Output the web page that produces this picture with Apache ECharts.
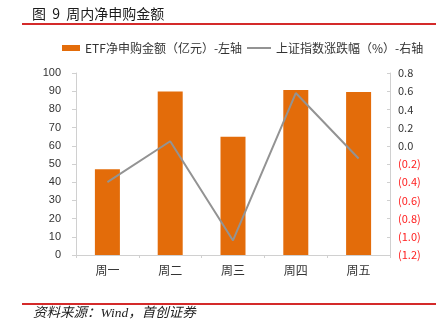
<!DOCTYPE html>
<html>
<head>
<meta charset="utf-8">
<script src="https://cdn.jsdelivr.net/npm/echarts@6/dist/echarts.min.js"></script>
<style>
  html, body { margin: 0; padding: 0; background: #fff; }
  #chart { width: 444px; height: 332px; }
</style>
</head>
<body>
<div id="chart"></div>
<script>
// Weekday categories
const categories = ['周一', '周二', '周三', '周四', '周五'];
// ETF net subscription amount (100 million yuan), left axis
const etfNetSub = [47.1, 89.9, 65.0, 90.7, 89.6];
// Shanghai Composite daily change (%), right axis
const shIndexChange = [-0.40, 0.05, -1.04, 0.58, -0.14];

const barName = 'ETF净申购金额（亿元）-左轴';
const lineName = '上证指数涨跌幅（%）-右轴';
const cjk = '"Noto Sans CJK SC", "Noto Sans", sans-serif';

const chart = echarts.init(document.getElementById('chart'), null, { renderer: 'canvas' });

chart.setOption({
  animation: false,
  backgroundColor: '#ffffff',
  textStyle: { fontFamily: cjk },
  graphic: [
    { type: 'text', left: 32, top: 7, style: { text: '图  9  周内净申购金额', fontSize: 14, fill: '#1a1a1a', fontFamily: cjk } },
    { type: 'rect', shape: { x: 22, y: 23, width: 414, height: 2 }, style: { fill: '#d42a2a' } },
    { type: 'rect', shape: { x: 22, y: 303, width: 414, height: 2 }, style: { fill: '#d42a2a' } },
    { type: 'text', left: 33, top: 307, style: { text: '资料来源：Wind，首创证券', fontSize: 13.5, fontStyle: 'italic', fill: '#222', fontFamily: '"Liberation Serif", ' + cjk } }
  ],
  legend: [
    {
      data: [{ name: barName, icon: 'rect' }],
      left: 57, top: 37, itemWidth: 18, itemHeight: 6, itemGap: 0,
      textStyle: { fontSize: 12, color: '#333', fontFamily: cjk }
    },
    {
      data: [{ name: lineName, icon: 'rect' }],
      left: 242, top: 37, itemWidth: 24, itemHeight: 2, itemGap: 0,
      textStyle: { fontSize: 12, color: '#333', fontFamily: cjk }
    }
  ],
  grid: { left: 76, right: 54, top: 73, bottom: 77, containLabel: false },
  xAxis: {
    type: 'category',
    data: categories,
    axisLine: { lineStyle: { color: '#d0d0d0', width: 1 } },
    axisTick: { show: true, length: 3, lineStyle: { color: '#d0d0d0' } },
    axisLabel: { fontSize: 12, color: '#333', margin: 9, fontFamily: cjk }
  },
  yAxis: [
    {
      type: 'value', min: 0, max: 100, interval: 10,
      splitLine: { show: false },
      axisLine: { show: true, lineStyle: { color: '#d0d0d0' } },
      axisTick: { show: true, length: 4, lineStyle: { color: '#d0d0d0' } },
      axisLabel: { fontSize: 11, color: '#333', margin: 15, fontFamily: 'Arial, "Liberation Sans", sans-serif' }
    },
    {
      type: 'value', min: -1.2, max: 0.8, interval: 0.2,
      splitLine: { show: false },
      axisLine: { show: true, lineStyle: { color: '#d0d0d0' } },
      axisTick: { show: true, inside: true, length: 3, lineStyle: { color: '#d0d0d0' } },
      axisLabel: {
        fontSize: 11, margin: 8, fontFamily: cjk,
        formatter: function (v) {
          const r = Math.round(v * 10) / 10;
          return r < 0 ? '(' + Math.abs(r).toFixed(1) + ')' : r.toFixed(1);
        },
        color: function (v) { return v < -1e-9 ? '#ff2020' : '#333'; }
      }
    }
  ],
  series: [
    {
      name: barName, type: 'bar', yAxisIndex: 0,
      data: etfNetSub, barWidth: 25,
      itemStyle: { color: '#e36c0a' }
    },
    {
      name: lineName, type: 'line', yAxisIndex: 1,
      data: shIndexChange, symbol: 'none',
      lineStyle: { color: '#939393', width: 2 },
      itemStyle: { color: '#939393' }
    }
  ]
});
</script>
</body>
</html>
